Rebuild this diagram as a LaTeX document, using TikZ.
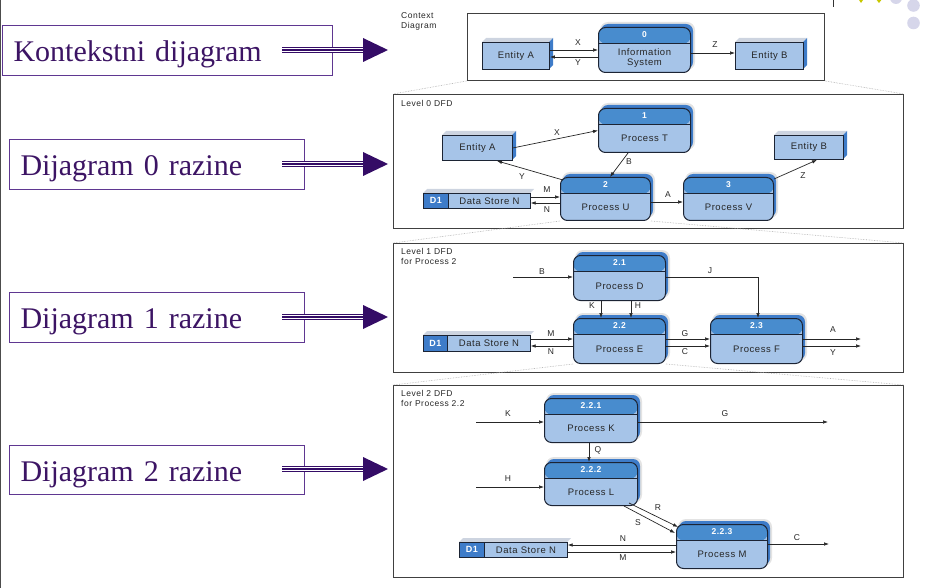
\documentclass[tikz,border=0pt]{standalone}
\usepackage{fontspec}
\setmainfont{Liberation Serif}
\newfontfamily\dfdfont[LetterSpace=6]{Liberation Sans}
\usetikzlibrary{arrows.meta,calc}
\definecolor{dfdhead}{RGB}{72,140,206}
\definecolor{dfdbody}{RGB}{166,196,232}
\definecolor{dfdborder}{RGB}{28,36,52}
\definecolor{dfdside}{RGB}{62,124,201}
\definecolor{dfdtop}{RGB}{205,212,224}
\definecolor{lbltext}{RGB}{60,20,100}
\definecolor{lblframe}{RGB}{95,55,145}
\definecolor{lblarrow}{RGB}{52,12,102}
\definecolor{decoyellow}{RGB}{200,200,0}
\definecolor{decolav}{RGB}{214,214,234}

\newcommand\dfdproc[7]{% name, x, y, w, h, number, label
  \fill[gray!22, rounded corners=8pt] (#2+2,#3-5) rectangle (#2+#4+5,#3+#5-2);
  \fill[dfdside, rounded corners=7pt] (#2+3,#3-3) rectangle (#2+#4+3,#3+#5-3);
  \node[procbox, anchor=north west, minimum width=#4pt, minimum height=#5pt] (#1) at (#2,#3) {};
  \node[numtxt] (#1-n) at ([yshift=-8pt]#1.north) {#6};
  \node[proctxt] (#1-t) at ([yshift=-8pt]#1.center) {#7};
}
\newcommand\dfdent[6]{% name, x, y, w, h, text
  \fill[dfdtop] (#2,#3) -- (#2+4,#3-4) -- (#2+#4+4,#3-4) -- (#2+#4,#3) -- cycle;
  \fill[dfdside] (#2+#4,#3) -- (#2+#4+4,#3-4) -- (#2+#4+4,#3+#5-4) -- (#2+#4,#3+#5) -- cycle;
  \node[entbox, anchor=north west, minimum width=#4pt, minimum height=#5pt] (#1) at (#2,#3) {#6};
}
\newcommand\dfdstore[6]{% name, x, y, wD, wrest, h
  \fill[dfdtop] (#2,#3) -- (#2+4,#3-4) -- (#2+#4+#5+4,#3-4) -- (#2+#4+#5,#3) -- cycle;
  \node[storeD, anchor=north west, minimum width=#4pt, minimum height=#6pt] (#1-d) at (#2,#3) {D1};
  \node[storeN, anchor=north west, minimum width=#5pt, minimum height=#6pt] (#1) at (#2+#4,#3) {Data Store N};
}
\newcommand\bigarrow[2]{% name, y
  \coordinate (#1s) at (282,#2);
  \coordinate (#1e) at (388,#2);
  \draw[draw=lblarrow, line width=5.6pt] (#1s) -- ([xshift=-23pt]#1e);
  \draw[white, line width=0.9pt] ([yshift=1.35pt]#1s) -- ([xshift=-23pt,yshift=1.35pt]#1e);
  \draw[white, line width=0.9pt] ([yshift=-1.35pt]#1s) -- ([xshift=-23pt,yshift=-1.35pt]#1e);
  \fill[lblarrow] ([xshift=-25pt,yshift=12pt]#1e) -- (#1e) -- ([xshift=-25pt,yshift=-12pt]#1e) -- cycle;
}

\begin{document}
\begin{tikzpicture}[x=1pt,y=-1pt,
  procbox/.style={draw=dfdborder, line width=1pt, rounded corners=7pt, fill=dfdbody, inner sep=0pt,
    path picture={
      \fill[dfdhead] (path picture bounding box.north west) rectangle ([yshift=-16pt]path picture bounding box.north east);
      \draw[dfdborder, line width=0.9pt] ([yshift=-16pt]path picture bounding box.north west) -- ([yshift=-16pt]path picture bounding box.north east);}},
  numtxt/.style={font=\dfdfont\bfseries\fontsize{8.5}{10}\selectfont, text=white, inner sep=0pt},
  proctxt/.style={font=\dfdfont\fontsize{9.5}{10.5}\selectfont, text=black!85, inner sep=0pt, align=center},
  entbox/.style={draw=dfdborder, line width=0.9pt, fill=dfdbody, inner sep=0pt, font=\dfdfont\fontsize{9.5}{11}\selectfont, text=black!85},
  storeD/.style={draw=dfdborder, line width=0.7pt, fill=dfdside, inner sep=0pt, font=\dfdfont\bfseries\fontsize{9}{10}\selectfont, text=white},
  storeN/.style={draw=dfdborder, line width=0.7pt, fill=dfdbody, inner sep=0pt, font=\dfdfont\fontsize{9.5}{11}\selectfont, text=black!85},
  flow/.style={-{Latex[length=5pt,width=3.6pt]}, line width=0.7pt, draw=black!85},
  lbl/.style={font=\dfdfont\fontsize{8.5}{10}\selectfont, text=black!85, inner sep=0pt},
  captxt/.style={font=\dfdfont\fontsize{8.5}{10}\selectfont, text=black!85, inner sep=0pt, align=left, anchor=north west},
  framebox/.style={draw=black!75, line width=0.9pt, inner sep=0pt, anchor=north west},
  zoomline/.style={draw=gray!65, densely dotted, line width=0.6pt},
  lblbox/.style={draw=lblframe, line width=1pt, inner xsep=11pt, inner ysep=0pt, anchor=north west,
    align=left, text=lbltext, font=\fontsize{30}{34}\selectfont, text height=22pt, text depth=0pt}
]
\useasboundingbox (0,0) rectangle (945,588);

% page artefacts
\draw[black!70, line width=1pt] (0.5,0) -- (0.5,588);
\draw[black!80, line width=0.8pt] (833,0) -- (833,7);
\begin{scope}
  \clip (0,0) rectangle (945,588);
  \fill[decoyellow] (855,-6) -- (867,-6) -- (861,3) -- cycle;
  \fill[decoyellow] (872,-6) -- (886,-6) -- (879,3) -- cycle;
  \fill[decolav] (896,-2) circle (6);
  \fill[decolav] (913.5,5.5) circle (6.3);
  \fill[decolav] (913.5,23) circle (6.3);
\end{scope}

% left labels
\node[lblbox, minimum width=330pt, minimum height=50pt, text width=308pt] (k0) at (2,25) {Kontekstni dijagram};
\node[lblbox, minimum width=295pt, minimum height=50pt, text width=273pt] (k1) at (9,139) {Dijagram 0 razine};
\node[lblbox, minimum width=295pt, minimum height=50pt, text width=273pt] (k2) at (9,292) {Dijagram 1 razine};
\node[lblbox, minimum width=295pt, minimum height=49pt, text width=273pt] (k3) at (9,445) {Dijagram 2 razine};
\bigarrow{ar0}{50}
\bigarrow{ar1}{164}
\bigarrow{ar2}{317}
\bigarrow{ar3}{469}

% frames
\node[framebox, minimum width=357pt, minimum height=67pt] (F0) at (467,13) {};
\node[framebox, minimum width=510pt, minimum height=134pt] (F1) at (393,94) {};
\node[framebox, minimum width=510pt, minimum height=129pt] (F2) at (393,243) {};
\node[framebox, minimum width=510pt, minimum height=192pt] (F3) at (393,385) {};

\node[captxt] (c0) at (401,12) {Context\\Diagram};
\node[captxt] (c1) at (401,100) {Level 0 DFD};
\node[captxt] (c2) at (401,248) {Level 1 DFD\\for Process 2};
\node[captxt] (c3) at (401,390) {Level 2 DFD\\for Process 2.2};

% ---------- context diagram
\dfdent{eA0}{482}{42}{67}{27}{Entity A}
\dfdent{eB0}{735}{42}{68}{27}{Entity B}
\dfdproc{p0}{598}{27}{92}{45}{0}{Information\\System}
\draw[flow] (eA0.east |- 0,50) -- (p0.west |- 0,50);
\draw[flow] (p0.west |- 0,57) -- (eA0.east |- 0,57);
\draw[flow] (p0.east |- 0,53) -- (eB0.west |- 0,53);
\node[lbl] (t01) at (578,43) {X};
\node[lbl] (t02) at (578,63) {Y};
\node[lbl] (t03) at (715,45) {Z};

% zoom lines context -> level 0
\draw[zoomline] (F0.south west) -- (F1.north west);
\draw[zoomline] (F0.south east) -- (F1.north east);

% ---------- level 0
\dfdent{eA1}{442}{135}{70}{25}{Entity A}
\dfdent{eB1}{774}{135}{69}{24}{Entity B}
\dfdstore{s0}{423}{193}{25}{82}{15}
\dfdproc{pT}{598}{108}{92}{44}{1}{Process T}
\dfdproc{pU}{560}{177}{90}{43}{2}{Process U}
\dfdproc{pV}{683}{177}{90}{43}{3}{Process V}
\draw[flow] (eA1.east) -- (pT.west);
\draw[flow] (pT.south -| 628,0) -- (pU.north -| 610,0);
\draw[flow] ([shift={(3,3)}]pU.north west) -- (eA1.south -| 497,0);
\draw[flow] (s0.east |- 0,197) -- (pU.west |- 0,197);
\draw[flow] (pU.west |- 0,203) -- (s0.east |- 0,203);
\draw[flow] (pU.east |- 0,202) -- (pV.west |- 0,202);
\draw[flow] ([shift={(0,2)}]pV.north east) -- (eB1.south -| 817,0);
\node[lbl] (t11) at (557,133) {X};
\node[lbl] (t12) at (629,162) {B};
\node[lbl] (t13) at (522,177) {Y};
\node[lbl] (t14) at (547,190) {M};
\node[lbl] (t15) at (547,210) {N};
\node[lbl] (t16) at (668,195) {A};
\node[lbl] (t17) at (803,176) {Z};

% zoom lines level 0 -> level 1
\draw[zoomline] (pU.south west) -- (F2.north west);
\draw[zoomline] (pU.south east) -- (F2.north east);

% ---------- level 1
\dfdstore{s1}{423}{335}{24}{83}{16}
\dfdproc{pD}{573}{255}{92}{45}{2.1}{Process D}
\dfdproc{pE}{573}{318}{92}{45}{2.2}{Process E}
\dfdproc{pF}{710}{318}{92}{45}{2.3}{Process F}
\coordinate (inB) at (513,277);
\coordinate (outA) at (861,339);
\coordinate (outY) at (861,346);
\draw[flow] (inB) -- (pD.west |- inB);
\draw[flow] (pD.east |- 0,277) -| (pF.north -| 758,0);
\draw[flow] (pD.south -| 601,0) -- (pE.north -| 601,0);
\draw[flow] (pD.south -| 631,0) -- (pE.north -| 631,0);
\draw[flow] (s1.east |- 0,339) -- (pE.west |- 0,339);
\draw[flow] (pE.west |- 0,346) -- (s1.east |- 0,346);
\draw[flow] (pE.east |- 0,339) -- (pF.west |- 0,339);
\draw[flow] (pE.east |- 0,346) -- (pF.west |- 0,346);
\draw[flow] (pF.east |- outA) -- (outA);
\draw[flow] (pF.east |- outY) -- (outY);
\node[lbl] (t21) at (542,272) {B};
\node[lbl] (t22) at (710,271) {J};
\node[lbl] (t23) at (592,306) {K};
\node[lbl] (t24) at (638,306) {H};
\node[lbl] (t25) at (551,334) {M};
\node[lbl] (t26) at (551,352) {N};
\node[lbl] (t27) at (685,334) {G};
\node[lbl] (t28) at (685,352) {C};
\node[lbl] (t29) at (833,330) {A};
\node[lbl] (t2a) at (833,353) {Y};

% zoom lines level 1 -> level 2
\draw[zoomline] (pE.south west) -- (F3.north west);
\draw[zoomline] (pE.south east) -- (F3.north east);

% ---------- level 2
\dfdstore{s2}{459}{542}{25}{83}{15}
\dfdproc{pK}{544}{398}{93}{44}{2.2.1}{Process K}
\dfdproc{pL}{544}{462}{93}{43}{2.2.2}{Process L}
\dfdproc{pM}{676}{524}{91}{44}{2.2.3}{Process M}
\coordinate (inK) at (476,422);
\coordinate (inH) at (476,487);
\coordinate (outG) at (828,422);
\coordinate (outC) at (829,544);
\draw[flow] (inK) -- (pK.west |- inK);
\draw[flow] (pK.east |- outG) -- (outG);
\draw[flow] (pK.south -| 589,0) -- (pL.north -| 589,0);
\draw[flow] (inH) -- (pL.west |- inH);
\draw[flow] ([shift={(-9,-3)}]pL.south east) -- ([shift={(2,3)}]pM.north west);
\draw[flow] ([shift={(-14,0)}]pL.south east) -- ([shift={(-1,9)}]pM.north west);
\draw[flow] (pM.west |- 0,545) -- (s2.east |- 0,545);
\draw[flow] (s2.east |- 0,552) -- (pM.west |- 0,552);
\draw[flow] (pM.east |- outC) -- (outC);
\node[lbl] (t31) at (508,414) {K};
\node[lbl] (t32) at (725,414) {G};
\node[lbl] (t33) at (598,450) {Q};
\node[lbl] (t34) at (508,479) {H};
\node[lbl] (t35) at (658,508) {R};
\node[lbl] (t36) at (638,523) {S};
\node[lbl] (t37) at (623,539) {N};
\node[lbl] (t38) at (623,558) {M};
\node[lbl] (t39) at (797,538) {C};
\end{tikzpicture}
\end{document}
